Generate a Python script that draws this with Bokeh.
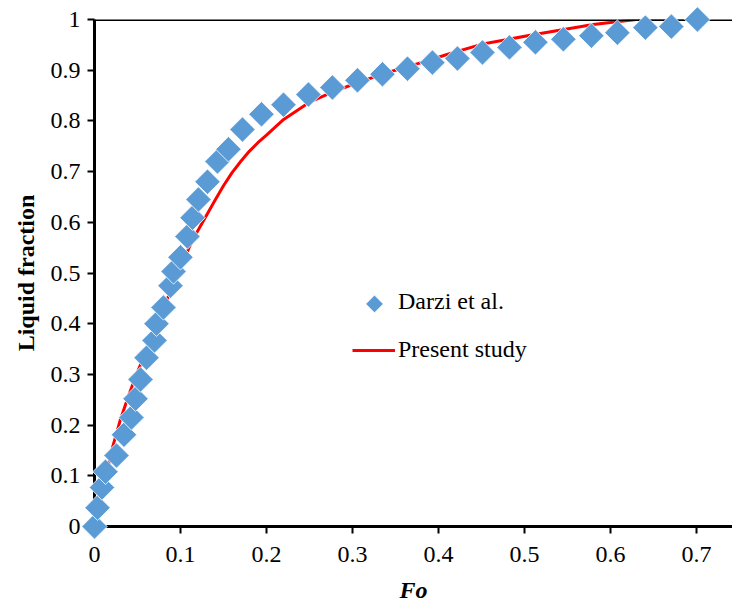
import numpy as np
from bokeh.plotting import figure
from bokeh.models import Range1d, FixedTicker, NumeralTickFormatter, Span, Legend, LegendItem
from bokeh.embed import file_html
from bokeh.resources import INLINE

# Darzi et al. (reference data)
darzi_fo = [0.0, 0.0035, 0.0087, 0.0128, 0.0256, 0.0343, 0.0430, 0.0477, 0.0535, 0.0605,
            0.0698, 0.0721, 0.0802, 0.0884, 0.0919, 0.1000, 0.1081, 0.1140, 0.1209, 0.1314,
            0.1430, 0.1558, 0.1721, 0.1942, 0.2198, 0.2488, 0.2767, 0.3058, 0.3349, 0.3640,
            0.3930, 0.4221, 0.4512, 0.4826, 0.5128, 0.5453, 0.5779, 0.6081, 0.6407, 0.6709,
            0.7012]
darzi_lf = [0.0, 0.037, 0.077, 0.108, 0.140, 0.181, 0.215, 0.252, 0.290, 0.333,
            0.367, 0.400, 0.432, 0.475, 0.503, 0.531, 0.572, 0.609, 0.645, 0.680,
            0.720, 0.744, 0.783, 0.813, 0.832, 0.852, 0.866, 0.880, 0.892, 0.903,
            0.915, 0.923, 0.935, 0.945, 0.955, 0.961, 0.968, 0.974, 0.984, 0.986,
            1.0]

# Present study
present_fo = [0.0, 0.01, 0.02, 0.03, 0.04, 0.05, 0.06, 0.07, 0.08, 0.09, 0.10, 0.11, 0.12,
              0.13, 0.14, 0.15, 0.16, 0.17, 0.18, 0.19, 0.20, 0.22, 0.25, 0.28, 0.31, 0.34,
              0.38, 0.41, 0.45, 0.51, 0.58, 0.63, 0.70]
present_lf = [0.0, 0.07, 0.15, 0.21, 0.26, 0.305, 0.345, 0.39, 0.43, 0.47, 0.51, 0.55, 0.583,
              0.613, 0.643, 0.672, 0.698, 0.72, 0.74, 0.757, 0.772, 0.803, 0.837, 0.859, 0.878,
              0.895, 0.915, 0.931, 0.951, 0.97, 0.99, 1.0, 1.0]

x_ticks = [0, 0.1, 0.2, 0.3, 0.4, 0.5, 0.6, 0.7]
y_ticks = [0, 0.1, 0.2, 0.3, 0.4, 0.5, 0.6, 0.7, 0.8, 0.9, 1.0]

FONT = "'Liberation Serif', 'Times New Roman', serif"

W, H = 732, 605
FL, FR, FT, FB = 94, 732, 19, 527   # frame edges in pixels
X0, X1, Y0, Y1 = 0.0, 0.742, 0.0, 1.0

p = figure(width=W, height=H, output_backend="svg", toolbar_location=None,
           x_range=Range1d(X0, X1), y_range=Range1d(Y0, Y1))
p.min_border_left = FL
p.min_border_right = W - FR
p.min_border_top = FT
p.min_border_bottom = H - FB
p.outline_line_color = None
p.xgrid.visible = False
p.ygrid.visible = False
p.background_fill_color = "white"
p.border_fill_color = "white"

for ax in (p.xaxis[0], p.yaxis[0]):
    ax.axis_line_width = 3
    ax.axis_line_color = "black"
    ax.major_tick_line_width = 2
    ax.major_tick_line_color = "black"
    ax.major_tick_out = 7
    ax.major_tick_in = 0
    ax.minor_tick_line_color = None
    ax.major_label_text_font = FONT
    ax.major_label_text_font_size = "24px"
    ax.major_label_text_color = "black"
    ax.axis_label_text_font = FONT
    ax.axis_label_text_font_size = "24px"
    ax.axis_label_text_color = "black"
    ax.formatter = NumeralTickFormatter(format="0.[0]")

p.xaxis[0].ticker = FixedTicker(ticks=x_ticks)
p.yaxis[0].ticker = FixedTicker(ticks=y_ticks)
p.xaxis[0].axis_label = "Fo"
p.xaxis[0].axis_label_text_font_style = "bold italic"
p.xaxis[0].major_label_standoff = 13
p.xaxis[0].axis_label_standoff = 12
p.yaxis[0].axis_label = "Liquid fraction"
p.yaxis[0].axis_label_text_font_style = "bold"
p.yaxis[0].major_label_standoff = 7
p.yaxis[0].axis_label_standoff = 9

top = Span(location=1.0, dimension="width", line_color="black", line_width=3)
p.add_layout(top)

MARKER = dict(marker="square", angle=np.pi / 4, fill_color="#5B9BD5",
              line_color="white", line_width=0.8, line_join="round")

line_r = p.line(present_fo, present_lf, line_color="#FF0000", line_width=3)
pts_r = p.scatter(darzi_fo, darzi_lf, size=18, level="overlay", **MARKER)

# legend: the Darzi entry uses an invisible stand-in; the rotated marker is drawn on top
stand_in = p.scatter([], [], marker="square", size=1, fill_alpha=0, line_alpha=0)
legend = Legend(items=[LegendItem(label="Darzi et al.", renderers=[stand_in]),
                       LegendItem(label="Present study", renderers=[line_r])],
                location=(258, 163), orientation="vertical",
                border_line_color=None, background_fill_alpha=0,
                label_text_font=FONT, label_text_font_size="24px",
                label_text_color="black",
                glyph_width=43, glyph_height=20, label_height=20,
                spacing=21, padding=0, margin=0, label_standoff=3)
p.add_layout(legend)

# legend marker position (pixels) converted to data units
LEG_PX, LEG_PY = 374, 304
leg_x = X0 + (LEG_PX - FL) / (FR - FL) * (X1 - X0)
leg_y = Y0 + (FB - LEG_PY) / (FB - FT) * (Y1 - Y0)
p.scatter([leg_x], [leg_y], size=12.5, level="overlay", **MARKER)

open("out.html", "w").write(file_html(p, INLINE))
